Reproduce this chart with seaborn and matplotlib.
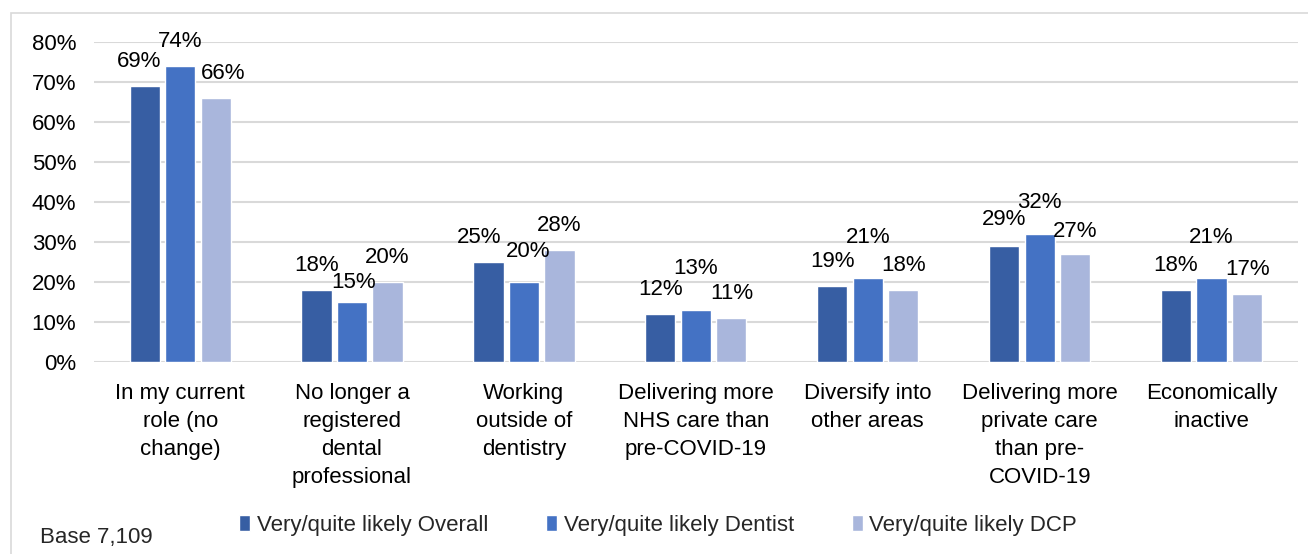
import numpy as np
import pandas as pd
import seaborn as sns
import matplotlib.pyplot as plt
from matplotlib.patches import Rectangle

# data
categories = ["In my current\nrole (no\nchange)",
              "No longer a\nregistered\ndental\nprofessional",
              "Working\noutside of\ndentistry",
              "Delivering more\nNHS care than\npre-COVID-19",
              "Diversify into\nother areas",
              "Delivering more\nprivate care\nthan pre-\nCOVID-19",
              "Economically\ninactive"]
series_names = ["Very/quite likely Overall", "Very/quite likely Dentist", "Very/quite likely DCP"]
overall = [69, 18, 25, 12, 19, 29, 18]
dentist = [74, 15, 20, 13, 21, 32, 21]
dcp = [66, 20, 28, 11, 18, 27, 17]
yticks = [0, 10, 20, 30, 40, 50, 60, 70, 80]

colors = ["#375ea3", "#4472c4", "#a9b6dc"]

# small nudges of the data labels (pixels), as Excel placed them to avoid overlap
label_dx = [[-6, 0, -9, 0, 0, 0, 0],
            [0, 2, 4, 0, 0, 0, 0],
            [7, 0, 0, 0, 0, 0, 0]]
label_dy = [[0, 0, 0, 0, 0, 2, 0],
            [0, -5, 6, 17, 16, 7, 16],
            [0, 0, 0, 0, 0, -2, 0]]

FS = 16

df = pd.DataFrame({
    "category": categories * 3,
    "series": np.repeat(series_names, len(categories)),
    "value": overall + dentist + dcp,
})

sns.set_theme(style="white")
plt.rcParams['font.family'] = ['Liberation Sans', 'DejaVu Sans']

fig = plt.figure(figsize=(13.08, 5.54), dpi=100)
ax = fig.add_axes([0.072, 0.3466, 0.92, 0.5776])

sns.barplot(data=df, x="category", y="value", hue="series", palette=colors,
            width=0.62, gap=0.15, saturation=1, ax=ax, zorder=3)

ax.set_ylim(0, 80)
ax.set_yticks(yticks)
ax.set_yticklabels([f"{t}%" for t in yticks], fontsize=FS, color="#000000")
ax.grid(axis="y", color="#d9d9d9", linewidth=1.5, zorder=0)
ax.set_axisbelow(True)
for s in ax.spines.values():
    s.set_visible(False)
ax.tick_params(axis="both", length=0)
ax.tick_params(axis="y", pad=13)
ax.tick_params(axis="x", pad=15)
ax.set_xlabel("")
ax.set_ylabel("")
for lbl in ax.get_xticklabels():
    lbl.set_fontsize(FS)
    lbl.set_color("#000000")
    lbl.set_linespacing(1.45)
    lbl.set_verticalalignment("top")
ax.set_xlim(-0.5, len(categories) - 0.5)

values = [overall, dentist, dcp]
for i, cont in enumerate(ax.containers):
    for j, bar in enumerate(cont):
        x = bar.get_x() + bar.get_width() / 2
        ax.annotate(f"{values[i][j]}%", (x, bar.get_height()),
                    xytext=(label_dx[i][j], 24 + label_dy[i][j]),
                    textcoords="offset pixels", ha="center", va="center",
                    fontsize=FS, color="#000000", zorder=5)

sns.move_legend(ax, "center", bbox_to_anchor=(0.503, 0.052),
                bbox_transform=fig.transFigure, ncol=3, frameon=False,
                title=None, fontsize=FS, handlelength=0.5, handleheight=0.7,
                handletextpad=0.3, columnspacing=2.6)

fig.text(40 / 1308, 1 - 537 / 554, "Base 7,109", fontsize=FS, va="center", ha="left")

fig.patches.append(Rectangle((11 / 1308, -0.05), 1.2, 1 - 13 / 554 + 0.05,
                             transform=fig.transFigure, fill=False,
                             edgecolor="#d9d9d9", linewidth=1.2))

plt.savefig("out.png", dpi=100)
